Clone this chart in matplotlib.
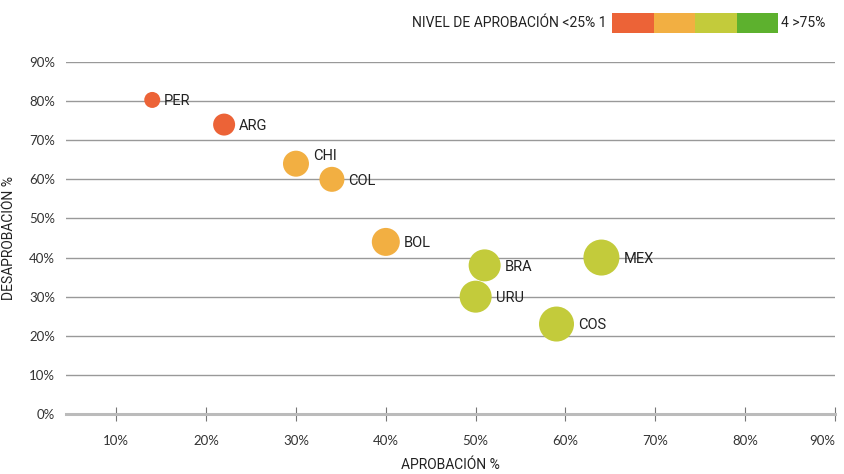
import matplotlib.pyplot as plt
from matplotlib.patches import Rectangle

# data
paises = ['PER', 'ARG', 'CHI', 'COL', 'BOL', 'BRA', 'URU', 'MEX', 'COS']
aprobacion = [14, 22, 30, 34, 40, 51, 50, 64, 59]
desaprobacion = [80.3, 74, 64, 60, 44, 38, 30, 40, 23]
nivel = [1, 1, 2, 2, 2, 3, 3, 3, 3]
radio_px = [8, 11, 13, 12.5, 14, 16, 16, 18, 17.5]

colores = {1: '#EC6337', 2: '#F2AF42', 3: '#C3CB3B', 4: '#5DB12E'}
# label offsets in pixels (dx, dy)
offsets = {'CHI': (1.0, 0.7)}

fig = plt.figure(figsize=(8.44, 4.74), dpi=100)
ax = fig.add_axes([66 / 844, 1 - 414 / 474, (835 - 66) / 844, (414 - 62) / 474])

sizes = [(2 * r * 0.72) ** 2 for r in radio_px]
cols = [colores[n] for n in nivel]
ax.scatter(aprobacion, desaprobacion, s=sizes, c=cols, linewidths=0, zorder=3)

for p, x, y, r in zip(paises, aprobacion, desaprobacion, radio_px):
    dx, dy = offsets.get(p, (1.0, 0.0))
    ax.annotate(p, (x, y), xytext=((r + 4) * 0.72 * dx, (r * 0.72) * dy - 1),
                textcoords='offset points', va='center', ha='left',
                fontsize=10.5, family='Roboto', color='#222222', zorder=4)

ax.set_xlim(4.4, 90)
ax.set_ylim(0, 90)
ax.set_yticks(range(0, 91, 10))
ax.set_yticklabels([f'{v}%' for v in range(0, 91, 10)])
ax.set_xticks(range(10, 91, 10))
ax.set_xticklabels([f'{v}%' for v in range(10, 91, 10)])

for v in range(10, 91, 10):
    ax.axhline(v, color='#999999', lw=1, zorder=1)
ax.axhline(0, color='#bbbbbb', lw=2.2, zorder=2, clip_on=False)

for s in ax.spines.values():
    s.set_visible(False)
ax.tick_params(axis='y', length=0, pad=8, labelsize=9.5, labelcolor='#333333')
ax.tick_params(axis='x', direction='inout', length=10, width=0.8, color='#777777',
               pad=10, labelsize=9.5, labelcolor='#333333')
for lab in ax.get_xticklabels() + ax.get_yticklabels():
    lab.set_family('Lato')
ax.get_xticklabels()[-1].set_horizontalalignment('right')
ax.get_xticklabels()[-1].set_x(90.8)

ax.set_xlabel('APROBACIÓN %', fontsize=10, family='Roboto', color='#222222', labelpad=8)
ax.set_ylabel('DESAPROBACIÓN %', fontsize=10, family='Roboto', color='#222222', labelpad=9)

# legend at top
fig.text(607 / 844, 1 - 23 / 474, 'NIVEL DE APROBACIÓN <25% 1', ha='right', va='center',
         fontsize=10, family='Roboto', color='#222222')
for i in range(4):
    fig.patches.append(Rectangle(((612 + i * 41.5) / 844, 1 - 33 / 474), 41.5 / 844, 20 / 474,
                                 transform=fig.transFigure, color=colores[i + 1], lw=0))
fig.text(781 / 844, 1 - 23 / 474, '4 >75%', ha='left', va='center',
         fontsize=10, family='Roboto', color='#222222')

fig.savefig('out.png', dpi=100)
